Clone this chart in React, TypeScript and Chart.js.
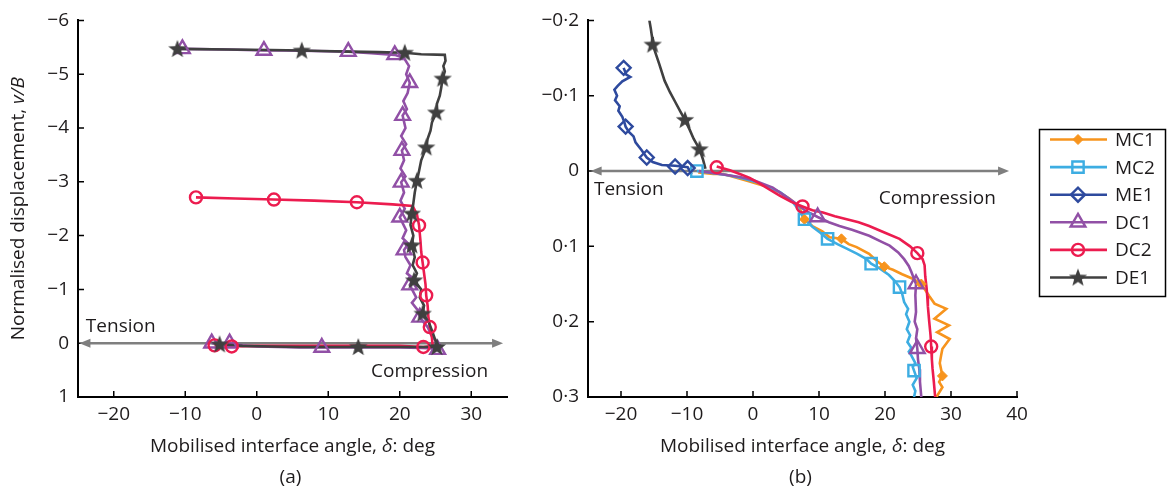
import React, { useEffect, useRef } from 'react';
import { Chart, registerables } from 'chart.js';
import { drawPoint } from 'chart.js/helpers';

Chart.register(...registerables);

type P = [number, number];

// ---------------- Panel (a) data ----------------
const A_X_TICKS = [-20, -10, 0, 10, 20, 30];
const A_Y_TICKS = [-6, -5, -4, -3, -2, -1, 0, 1];

const A_DC1_LINE: P[] = [
  [-6.3, 0.0], [-5, 0.01], [-3.8, 0.0], [-2, 0.04], [0, 0.06], [3, 0.07], [6, 0.08], [9.1, 0.08], [12, 0.08], [16, 0.08], [20, 0.08], [23, 0.09], [25.3, 0.1],
  [25.0, -0.05], [24.4, -0.15], [23.9, -0.3], [22.8, -0.48], [22.6, -0.6], [21.7, -0.75], [22.3, -0.85], [21.4, -1.08], [21.9, -1.2], [21.0, -1.3], [21.5, -1.45],
  [20.8, -1.6], [20.6, -1.73], [21.2, -1.85], [20.4, -1.95], [20.9, -2.1], [20.0, -2.34], [20.7, -2.5], [20.1, -2.65], [20.6, -2.8], [20.2, -2.99], [20.8, -3.1],
  [20.1, -3.25], [20.6, -3.4], [20.3, -3.58], [20.9, -3.7], [20.2, -3.85], [20.8, -4.0], [20.4, -4.23], [21.0, -4.35], [20.5, -4.5], [21.1, -4.65], [21.4, -4.84],
  [20.9, -5.0], [21.3, -5.15], [20.6, -5.3], [19.3, -5.36], [16, -5.39], [12.8, -5.42], [8, -5.43], [4, -5.44], [1.0, -5.44], [-4, -5.46], [-10.4, -5.47],
];
const A_DC1_MARKS: P[] = [
  [-6.3, 0.0], [-3.8, 0.0], [9.1, 0.08], [25.3, 0.12], [22.8, -0.48], [21.4, -1.08], [20.6, -1.73], [20.0, -2.34], [20.2, -2.99], [20.3, -3.58],
  [20.4, -4.23], [21.4, -4.84], [19.3, -5.36], [12.8, -5.42], [1.0, -5.44], [-10.4, -5.47],
];

const A_DC2_LINE: P[] = [
  [-5.9, 0.04], [-4.5, 0.05], [-3.5, 0.06], [0, 0.05], [5, 0.05], [10, 0.05], [15, 0.05], [20, 0.05], [23.3, 0.07], [24.6, 0.05], [24.5, -0.1], [24.2, -0.3],
  [24.0, -0.5], [23.9, -0.7], [23.7, -0.89], [23.6, -1.1], [23.4, -1.3], [23.2, -1.5], [23.0, -1.7], [22.9, -1.9], [22.7, -2.19], [22.4, -2.4], [21.8, -2.55],
  [19, -2.58], [14.0, -2.62], [8, -2.65], [2.4, -2.67], [-3, -2.69], [-8.5, -2.71],
];
const A_DC2_MARKS: P[] = [
  [-5.9, 0.04], [-3.5, 0.06], [23.3, 0.07], [24.2, -0.3], [23.7, -0.89], [23.2, -1.5], [22.7, -2.19], [14.0, -2.62], [2.4, -2.67], [-8.5, -2.71],
];

const A_DE1_LINE: P[] = [
  [-5.2, 0.02], [-2, 0.05], [2, 0.06], [6, 0.07], [10, 0.07], [14.2, 0.07], [18, 0.07], [22, 0.07], [25.2, 0.07], [25.0, -0.05], [24.6, -0.2], [24.1, -0.38],
  [23.2, -0.55], [23.4, -0.7], [22.8, -0.85], [23.0, -1.0], [22.0, -1.17], [22.4, -1.3], [21.8, -1.45], [22.1, -1.6], [21.7, -1.82], [21.9, -2.0], [21.5, -2.2],
  [21.7, -2.41], [21.9, -2.6], [22.1, -2.8], [22.4, -3.02], [22.7, -3.2], [23.0, -3.4], [23.7, -3.64], [23.9, -3.8], [24.3, -3.95], [24.5, -4.1], [25.1, -4.29],
  [25.2, -4.45], [25.6, -4.6], [25.8, -4.75], [26.0, -4.92], [26.3, -5.05], [26.1, -5.15], [26.4, -5.25], [26.3, -5.36], [23, -5.37], [20.7, -5.4], [17, -5.41],
  [13, -5.42], [9, -5.43], [6.3, -5.44], [2, -5.45], [-4, -5.46], [-11.1, -5.47],
];
const A_DE1_MARKS: P[] = [
  [-5.2, 0.02], [14.2, 0.07], [25.2, 0.07], [23.2, -0.55], [22.0, -1.17], [21.7, -1.82], [21.7, -2.41], [22.4, -3.02], [23.7, -3.64], [25.1, -4.29],
  [26.0, -4.92], [20.7, -5.4], [6.3, -5.44], [-11.1, -5.47],
];

// ---------------- Panel (b) data ----------------
const B_X_TICKS = [-20, -10, 0, 10, 20, 30, 40];
const B_Y_TICKS = [-0.2, -0.1, 0, 0.1, 0.2, 0.3];

const B_MC1_LINE: P[] = [
  [-8.3, 0.002], [-6, 0.004], [-4.5, 0.004], [-2.5, 0.009], [-0.9, 0.013], [1, 0.018], [2.1, 0.021], [4, 0.028], [5.6, 0.037], [7.1, 0.05], [7.8, 0.064],
  [9.0, 0.073], [10.5, 0.08], [11.6, 0.088], [13.4, 0.09], [14.5, 0.097], [15.7, 0.101], [17.6, 0.11], [18.7, 0.119], [19.9, 0.127], [21.2, 0.131], [22.6, 0.137],
  [24.2, 0.143], [25.5, 0.15], [26.1, 0.158], [26.7, 0.166], [27.5, 0.176], [29.3, 0.183], [27.5, 0.196], [29.7, 0.205], [27.9, 0.214], [29.8, 0.223],
  [28.7, 0.236], [28.5, 0.245], [28.3, 0.255], [28.7, 0.272], [28.2, 0.28], [28.7, 0.287], [27.8, 0.3],
];
const B_MC1_MARKS: P[] = [[7.8, 0.064], [13.4, 0.09], [19.9, 0.127], [25.5, 0.15], [28.7, 0.272]];

const B_MC2_LINE: P[] = [
  [-8.5, 0.0], [-6, 0.003], [-3.5, 0.006], [-1.5, 0.01], [0.6, 0.015], [2.5, 0.022], [4.1, 0.028], [5, 0.034], [6.0, 0.041], [6.8, 0.05], [7.8, 0.064],
  [9.0, 0.074], [10.2, 0.082], [11.3, 0.09], [12.8, 0.097], [14.2, 0.103], [15.8, 0.11], [17.2, 0.117], [17.9, 0.123], [19.3, 0.13], [20.6, 0.138], [21.5, 0.146],
  [22.2, 0.154], [22.6, 0.163], [22.9, 0.174], [23.5, 0.183], [23.2, 0.19], [23.7, 0.2], [23.3, 0.21], [23.8, 0.218], [23.4, 0.227], [24.0, 0.235], [23.6, 0.24],
  [24.0, 0.245], [24.6, 0.255], [24.2, 0.26], [24.4, 0.265], [24.8, 0.275], [24.2, 0.284], [24.6, 0.292], [24.4, 0.3],
];
const B_MC2_MARKS: P[] = [[-8.5, 0.0], [7.8, 0.064], [11.3, 0.09], [17.9, 0.123], [22.2, 0.154], [24.4, 0.265]];

const B_ME1_LINE: P[] = [
  [-19.6, -0.137], [-19.2, -0.128], [-18.6, -0.125], [-19.8, -0.119], [-20.5, -0.113], [-21.0, -0.108], [-20.6, -0.1], [-20.9, -0.094], [-20.2, -0.086],
  [-20.4, -0.08], [-19.8, -0.072], [-19.5, -0.065], [-19.3, -0.059], [-18.8, -0.052], [-18.1, -0.046], [-17.8, -0.038], [-16.9, -0.028], [-16.1, -0.018],
  [-15.2, -0.012], [-13.8, -0.008], [-11.8, -0.007], [-10.8, -0.006], [-9.9, -0.005], [-9.3, 0.004],
];
const B_ME1_MARKS: P[] = [[-19.6, -0.137], [-19.3, -0.059], [-16.1, -0.018], [-11.8, -0.006], [-9.9, -0.004]];

const B_DC1_LINE: P[] = [
  [-8.2, 0.0], [-5, 0.004], [-2, 0.008], [0, 0.012], [3, 0.022], [6, 0.04], [8, 0.053], [9.8, 0.061], [11.5, 0.068], [13.1, 0.073], [15, 0.078], [17.6, 0.086],
  [19.5, 0.094], [20.7, 0.099], [22, 0.108], [22.9, 0.117], [23.6, 0.126], [24, 0.134], [24.7, 0.15], [24.6, 0.165], [24.7, 0.187], [24.5, 0.2], [24.9, 0.21],
  [24.7, 0.222], [24.9, 0.236], [25.0, 0.25], [25.2, 0.263], [25.3, 0.28], [25.5, 0.3],
];
const B_DC1_MARKS: P[] = [[9.8, 0.061], [24.7, 0.15], [24.9, 0.236]];

const B_DC2_LINE: P[] = [
  [-5.5, -0.006], [-3.5, -0.001], [-2.0, 0.004], [-0.5, 0.009], [1.1, 0.017], [2.6, 0.025], [4.1, 0.033], [5.8, 0.041], [7.5, 0.047], [9, 0.052], [10.6, 0.055],
  [12.4, 0.06], [14.2, 0.064], [16, 0.068], [17.6, 0.073], [20, 0.082], [22.2, 0.09], [23.8, 0.1], [24.9, 0.109], [25.7, 0.117], [26, 0.125], [26.1, 0.14],
  [26.3, 0.155], [26.4, 0.166], [26.5, 0.18], [26.7, 0.2], [26.9, 0.218], [27.0, 0.233], [27.1, 0.25], [27.2, 0.262], [27.4, 0.28], [27.6, 0.3],
];
const B_DC2_MARKS: P[] = [[-5.5, -0.005], [7.5, 0.047], [24.9, 0.109], [27.0, 0.233]];

const B_DE1_LINE: P[] = [
  [-15.7, -0.2], [-15.5, -0.19], [-15.3, -0.178], [-15.2, -0.168], [-14.7, -0.155], [-14.2, -0.142], [-13.4, -0.12], [-12.6, -0.105], [-11.8, -0.092],
  [-11.0, -0.079], [-10.3, -0.068], [-9.6, -0.055], [-9.0, -0.043], [-8.1, -0.029], [-7.6, -0.016], [-7.2, -0.003],
];
const B_DE1_MARKS: P[] = [[-15.2, -0.168], [-10.3, -0.068], [-8.1, -0.029]];

const LEGEND_NAMES = ['MC1', 'MC2', 'ME1', 'DC1', 'DC2', 'DE1'];

// ---------------- Styles ----------------
const FONT = '"Open Sans", "Noto Sans", sans-serif';
const FS = 19;
const TEXT = '#1e1b1c';
const ARROW = '#7f7f7f';

type Style = { color: string; point: any; radius: number; fill: string; bw: number };
const STYLES: Record<string, Style> = {
  MC1: { color: '#f7941d', point: 'rectRot', radius: 5, fill: '#f7941d', bw: 1 },
  MC2: { color: '#3dade2', point: 'rect', radius: 8, fill: 'rgba(0,0,0,0)', bw: 2.4 },
  ME1: { color: '#2e4a9e', point: 'rectRot', radius: 7, fill: 'rgba(0,0,0,0)', bw: 2.4 },
  DC1: { color: '#9150a6', point: 'triangle', radius: 8.5, fill: 'rgba(0,0,0,0)', bw: 2.4 },
  DC2: { color: '#ec1c4f', point: 'circle', radius: 6, fill: 'rgba(0,0,0,0)', bw: 2.4 },
  DE1: { color: '#404040', point: 'star5', radius: 9, fill: '#404040', bw: 0 },
};
const STACK = ['DE1', 'DC2', 'DC1', 'ME1', 'MC2', 'MC1'];

function makeStar(color: string): HTMLCanvasElement {
  const c = document.createElement('canvas');
  c.width = 20; c.height = 20;
  const g = c.getContext('2d')!;
  g.fillStyle = color;
  g.beginPath();
  for (let i = 0; i < 10; i++) {
    const r = i % 2 === 0 ? 9.6 : 4.0;
    const a = -Math.PI / 2 + (i * Math.PI) / 5;
    const px = 10 + r * Math.cos(a);
    const py = 10.5 + r * Math.sin(a);
    if (i === 0) g.moveTo(px, py); else g.lineTo(px, py);
  }
  g.closePath();
  g.fill();
  return c;
}

type Seg = { t: string; i?: boolean };
function drawRich(ctx: CanvasRenderingContext2D, segs: Seg[], cx: number, cy: number, rotate = false) {
  ctx.save();
  ctx.translate(cx, cy);
  if (rotate) ctx.rotate(-Math.PI / 2);
  ctx.textBaseline = 'middle';
  ctx.textAlign = 'left';
  ctx.fillStyle = TEXT;
  const fonts = segs.map((s) => `${s.i ? 'italic ' : ''}${FS}px ${FONT}`);
  let w = 0;
  segs.forEach((s, k) => { ctx.font = fonts[k]; w += ctx.measureText(s.t).width; });
  let x = -w / 2;
  segs.forEach((s, k) => { ctx.font = fonts[k]; ctx.fillText(s.t, x, 0); x += ctx.measureText(s.t).width; });
  ctx.restore();
}

const fmtInt = (v: number) => (v < 0 ? '\u2212' + Math.abs(v) : String(v));
const fmtDec = (v: number) => (Math.abs(v) < 1e-9 ? '0' : (v < 0 ? '\u2212' : '') + Math.abs(v).toFixed(1).replace('.', '\u00B7'));

type Panel = {
  series: { name: string; line: P[]; marks: P[] }[];
  xMin: number; xMax: number; yMin: number; yMax: number;
  xTicks: number[]; yTicks: number[];
  yFmt: (v: number) => string;
  padRight: number; yWidth: number;
  arrow: [number, number];
  tension: [number, number]; compression: [number, number];
  label: string; yTitle: boolean; legend: boolean;
};

function buildConfig(p: Panel, star: HTMLCanvasElement): any {
  const pointOf = (s: Style) => (s.point === 'star5' ? star : s.point);
  const datasets: any[] = [];
  p.series.forEach((s) => {
    const st = STYLES[s.name];
    const o = STACK.indexOf(s.name);
    datasets.push({
      label: s.name,
      data: s.line.map(([x, y]) => ({ x, y })),
      showLine: true,
      borderColor: st.color,
      borderWidth: 2.6,
      pointRadius: 0,
      tension: 0,
      order: o + 10,
    });
    datasets.push({
      label: s.name + ' markers',
      data: s.marks.map(([x, y]) => ({ x, y })),
      showLine: false,
      pointStyle: pointOf(st),
      pointRadius: st.radius,
      pointBorderWidth: st.bw,
      pointBorderColor: st.color,
      pointBackgroundColor: st.fill,
      order: o,
    });
  });

  const overlay = {
    id: 'overlay',
    beforeDatasetsDraw(chart: any) {
      const { ctx, chartArea: ca, scales } = chart;
      const x = scales.x, y = scales.y;
      ctx.save();
      // inward tick marks
      ctx.strokeStyle = '#000';
      ctx.lineWidth = 1.5;
      ctx.beginPath();
      p.xTicks.forEach((v) => { const px = x.getPixelForValue(v); ctx.moveTo(px, ca.bottom); ctx.lineTo(px, ca.bottom - 6); });
      p.yTicks.forEach((v) => { const py = y.getPixelForValue(v); ctx.moveTo(ca.left, py); ctx.lineTo(ca.left + 6, py); });
      ctx.stroke();
      // double arrow along zero
      const y0 = y.getPixelForValue(0);
      const x1 = x.getPixelForValue(p.arrow[0]);
      const x2 = x.getPixelForValue(p.arrow[1]);
      const hl = 11, hw = 4.5;
      ctx.strokeStyle = ARROW;
      ctx.fillStyle = ARROW;
      ctx.lineWidth = 2.5;
      ctx.beginPath();
      ctx.moveTo(x1 + hl - 1, y0);
      ctx.lineTo(x2 - hl + 1, y0);
      ctx.stroke();
      ctx.beginPath();
      ctx.moveTo(x1, y0); ctx.lineTo(x1 + hl, y0 - hw); ctx.lineTo(x1 + hl, y0 + hw); ctx.closePath();
      ctx.moveTo(x2, y0); ctx.lineTo(x2 - hl, y0 - hw); ctx.lineTo(x2 - hl, y0 + hw); ctx.closePath();
      ctx.fill();
      ctx.restore();
    },
    afterDraw(chart: any) {
      const { ctx, chartArea: ca, scales } = chart;
      const x = scales.x, y = scales.y;
      ctx.save();
      ctx.fillStyle = TEXT;
      ctx.font = `${FS}px ${FONT}`;
      ctx.textBaseline = 'middle';
      ctx.textAlign = 'left';
      ctx.fillText('Tension', x.getPixelForValue(p.tension[0]), y.getPixelForValue(p.tension[1]));
      ctx.textAlign = 'right';
      ctx.fillText('Compression', x.getPixelForValue(p.compression[0]), y.getPixelForValue(p.compression[1]));
      ctx.restore();

      const cx = (ca.left + ca.right) / 2;
      drawRich(ctx, [{ t: 'Mobilised interface angle, ' }, { t: '\u03B4', i: true }, { t: ': deg' }], cx, ca.bottom + 50);
      drawRich(ctx, [{ t: p.label }], cx - 2, ca.bottom + 81);
      if (p.yTitle) {
        drawRich(ctx, [{ t: 'Normalised displacement, ' }, { t: 'v/B', i: true }], 19, (ca.top + ca.bottom) / 2, true);
      }
      if (p.legend) {
        const bx = ca.right + 22, by = 129.5, bw = 126, bh = 167;
        ctx.save();
        ctx.strokeStyle = '#000';
        ctx.lineWidth = 1.5;
        ctx.strokeRect(Math.round(bx) + 0.5, by, bw, bh);
        LEGEND_NAMES.forEach((name, i) => {
          const st = STYLES[name];
          const ly = 139.5 + i * 27.6;
          ctx.strokeStyle = st.color;
          ctx.lineWidth = 2.6;
          ctx.beginPath();
          ctx.moveTo(bx + 11, ly);
          ctx.lineTo(bx + 68, ly);
          ctx.stroke();
          ctx.fillStyle = st.fill;
          ctx.strokeStyle = st.color;
          ctx.lineWidth = st.bw;
          drawPoint(ctx, { pointStyle: pointOf(st), rotation: 0, radius: st.radius, borderWidth: st.bw } as any, bx + 39, ly);
          ctx.fillStyle = TEXT;
          ctx.font = `${FS}px ${FONT}`;
          ctx.textAlign = 'left';
          ctx.textBaseline = 'middle';
          ctx.fillText(name, bx + 76, ly + 1);
        });
        ctx.restore();
      }
    },
  };

  const tickFont = { family: FONT, size: FS };
  return {
    type: 'scatter',
    data: { datasets },
    options: {
      animation: false,
      responsive: false,
      events: [],
      layout: { padding: { left: 0, right: p.padRight, top: 20, bottom: 0 } },
      plugins: { legend: { display: false }, tooltip: { enabled: false } },
      scales: {
        x: {
          type: 'linear',
          min: p.xMin,
          max: p.xMax,
          afterBuildTicks: (s: any) => { s.ticks = p.xTicks.map((v) => ({ value: v })); },
          afterFit: (s: any) => { s.height = 91; },
          grid: { display: false, drawTicks: false },
          border: { display: true, color: '#000', width: 2 },
          ticks: { padding: 6, font: tickFont, color: TEXT, callback: (v: any) => fmtInt(Number(v)), maxRotation: 0, autoSkip: false },
        },
        y: {
          type: 'linear',
          reverse: true,
          min: p.yMin,
          max: p.yMax,
          afterBuildTicks: (s: any) => { s.ticks = p.yTicks.map((v) => ({ value: v })); },
          afterFit: (s: any) => { s.width = p.yWidth; },
          grid: { display: false, drawTicks: false },
          border: { display: true, color: '#000', width: 2 },
          ticks: { padding: 9, font: tickFont, color: TEXT, callback: (v: any) => p.yFmt(Number(v)), autoSkip: false },
        },
      },
    },
    plugins: [overlay],
  };
}

const PANEL_A: Panel = {
  series: [
    { name: 'DC1', line: A_DC1_LINE, marks: A_DC1_MARKS },
    { name: 'DC2', line: A_DC2_LINE, marks: A_DC2_MARKS },
    { name: 'DE1', line: A_DE1_LINE, marks: A_DE1_MARKS },
  ],
  xMin: -25, xMax: 35, yMin: -6, yMax: 1,
  xTicks: A_X_TICKS, yTicks: A_Y_TICKS, yFmt: fmtInt,
  padRight: 23, yWidth: 78,
  arrow: [-24.8, 34.45],
  tension: [-23.9, -0.3], compression: [32.35, 0.52],
  label: '(a)', yTitle: true, legend: false,
};

const PANEL_B: Panel = {
  series: [
    { name: 'MC1', line: B_MC1_LINE, marks: B_MC1_MARKS },
    { name: 'MC2', line: B_MC2_LINE, marks: B_MC2_MARKS },
    { name: 'ME1', line: B_ME1_LINE, marks: B_ME1_MARKS },
    { name: 'DC1', line: B_DC1_LINE, marks: B_DC1_MARKS },
    { name: 'DC2', line: B_DC2_LINE, marks: B_DC2_MARKS },
    { name: 'DE1', line: B_DE1_LINE, marks: B_DE1_MARKS },
  ],
  xMin: -25, xMax: 40, yMin: -0.2, yMax: 0.3,
  xTicks: B_X_TICKS, yTicks: B_Y_TICKS, yFmt: fmtDec,
  padRight: 150, yWidth: 58,
  arrow: [-24.6, 38.8],
  tension: [-24.1, 0.024], compression: [36.8, 0.037],
  label: '(b)', yTitle: false, legend: true,
};

export default function App() {
  const leftRef = useRef<HTMLCanvasElement>(null);
  const rightRef = useRef<HTMLCanvasElement>(null);
  useEffect(() => {
    const star = makeStar(STYLES.DE1.color);
    const c1 = new Chart(leftRef.current!, buildConfig(PANEL_A, star));
    const c2 = new Chart(rightRef.current!, buildConfig(PANEL_B, star));
    return () => { c1.destroy(); c2.destroy(); };
  }, []);
  return (
    <div style={{ position: 'absolute', left: 0, top: 0, width: 1167, height: 488, background: '#fff', overflow: 'hidden' }}>
      <canvas ref={leftRef} width={530} height={488} style={{ position: 'absolute', left: 0, top: 0, width: 530, height: 488 }} />
      <canvas ref={rightRef} width={637} height={488} style={{ position: 'absolute', left: 530, top: 0, width: 637, height: 488 }} />
    </div>
  );
}
